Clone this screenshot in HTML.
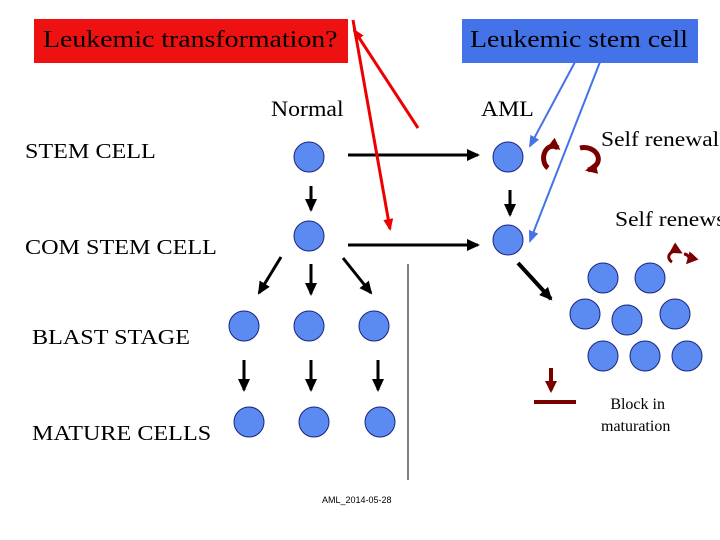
<!DOCTYPE html>
<html><head><style>
body{margin:0;background:#fff;width:720px;height:540px;overflow:hidden;position:relative;font-family:"Liberation Serif",serif}
.t{position:absolute;white-space:nowrap;color:#000;transform-origin:0 0}
</style></head><body>
<svg width="720" height="540" style="position:absolute;left:0;top:0">
<defs>
<marker id="ak" markerWidth="14" markerHeight="14" refX="11" refY="7" orient="auto" markerUnits="userSpaceOnUse"><path d="M0,1 L13,7 L0,13 z" fill="#000"/></marker>
<marker id="ar" markerWidth="12" markerHeight="12" refX="10" refY="6" orient="auto" markerUnits="userSpaceOnUse"><path d="M0,1 L12,6 L0,11 z" fill="#e00"/></marker>
<marker id="ab" markerWidth="12" markerHeight="12" refX="10" refY="6" orient="auto" markerUnits="userSpaceOnUse"><path d="M0,1 L12,6 L0,11 z" fill="#4472e8"/></marker>
<marker id="ad" markerWidth="12" markerHeight="12" refX="9" refY="6" orient="auto" markerUnits="userSpaceOnUse"><path d="M0,0 L12,6 L0,12 z" fill="#7a0000"/></marker>
</defs>
<rect x="34" y="19" width="314" height="44" fill="#ee1111"/>
<rect x="462" y="19" width="236" height="44" fill="#4472e8"/>
<g fill="#5b8af0" stroke="#1a237e" stroke-width="1">
<circle cx="309" cy="157" r="15"/><circle cx="309" cy="236" r="15"/>
<circle cx="244" cy="326" r="15"/><circle cx="309" cy="326" r="15"/><circle cx="374" cy="326" r="15"/>
<circle cx="249" cy="422" r="15"/><circle cx="314" cy="422" r="15"/><circle cx="380" cy="422" r="15"/>
<circle cx="508" cy="157" r="15"/><circle cx="508" cy="240" r="15"/>
<circle cx="603" cy="278" r="15"/><circle cx="650" cy="278" r="15"/>
<circle cx="585" cy="314" r="15"/><circle cx="627" cy="320" r="15"/><circle cx="675" cy="314" r="15"/>
<circle cx="603" cy="356" r="15"/><circle cx="645" cy="356" r="15"/><circle cx="687" cy="356" r="15"/>
</g>
<g stroke="#000" stroke-width="3" marker-end="url(#ak)">
<line x1="348" y1="155" x2="478" y2="155"/>
<line x1="348" y1="245" x2="478" y2="245"/>
<line x1="311" y1="186" x2="311" y2="210"/>
<line x1="281" y1="257" x2="259" y2="293"/>
<line x1="311" y1="264" x2="311" y2="294"/>
<line x1="343" y1="258" x2="371" y2="293"/>
<line x1="244" y1="360" x2="244" y2="390"/>
<line x1="311" y1="360" x2="311" y2="390"/>
<line x1="378" y1="360" x2="378" y2="390"/>
<line x1="510" y1="190" x2="510" y2="215"/>
<line x1="518" y1="263" x2="551" y2="299" stroke-width="4"/>
</g>
<line x1="408" y1="264" x2="408" y2="480" stroke="#000" stroke-width="1"/>
<g stroke="#e00" stroke-width="3">
<line x1="418" y1="128" x2="354" y2="30" marker-end="url(#ar)"/>
<line x1="353" y1="20" x2="390" y2="229" marker-end="url(#ar)"/>
</g>
<g stroke="#4472e8" stroke-width="2">
<line x1="575" y1="62" x2="530" y2="146" marker-end="url(#ab)"/>
<line x1="600" y1="62" x2="530" y2="241" marker-end="url(#ab)"/>
</g>
<g stroke="#7a0000" stroke-width="5" fill="none">
<path d="M548,168 A8,10 0 0 1 558,148" marker-end="url(#ad)"/>
<path d="M580,148 A10,8 0 0 1 588,170" marker-end="url(#ad)"/>
<path d="M672,262 A6,5 0 0 1 680,252" stroke-width="3" marker-end="url(#ad)"/>
<path d="M684,254 A6,5 0 0 1 688,262" stroke-width="3" marker-end="url(#ad)"/>
<line x1="551" y1="368" x2="551" y2="390" stroke-width="4" marker-end="url(#ad)"/>
<line x1="534" y1="402" x2="576" y2="402" stroke-width="4"/>
</g>
</svg>
<div class="t" style="left:43px;top:27px;font-size:24px;transform:scaleX(1.16)">Leukemic transformation?</div>
<div class="t" style="left:470px;top:27px;font-size:24px;transform:scaleX(1.16)">Leukemic stem cell</div>
<div class="t" style="left:271px;top:96px;font-size:22px;transform:scaleX(1.08)">Normal</div>
<div class="t" style="left:481px;top:96px;font-size:22px;transform:scaleX(1.08)">AML</div>
<div class="t" style="left:25px;top:139px;font-size:21px;transform:scaleX(1.15)">STEM CELL</div>
<div class="t" style="left:25px;top:235px;font-size:21px;transform:scaleX(1.15)">COM STEM CELL</div>
<div class="t" style="left:32px;top:325px;font-size:21px;transform:scaleX(1.15)">BLAST STAGE</div>
<div class="t" style="left:32px;top:421px;font-size:21px;transform:scaleX(1.15)">MATURE CELLS</div>
<div class="t" style="left:601px;top:127px;font-size:21px;transform:scaleX(1.12)">Self renewal</div>
<div class="t" style="left:615px;top:207px;font-size:21px;transform:scaleX(1.12)">Self renews</div>
<div class="t" style="left:601px;top:394px;font-size:16px;text-align:center;line-height:22px">&nbsp;Block in<br>maturation</div>
<div class="t" style="left:322px;top:495px;font-size:9px;font-family:'Liberation Sans',sans-serif">AML_2014-05-28</div>
</body></html>
